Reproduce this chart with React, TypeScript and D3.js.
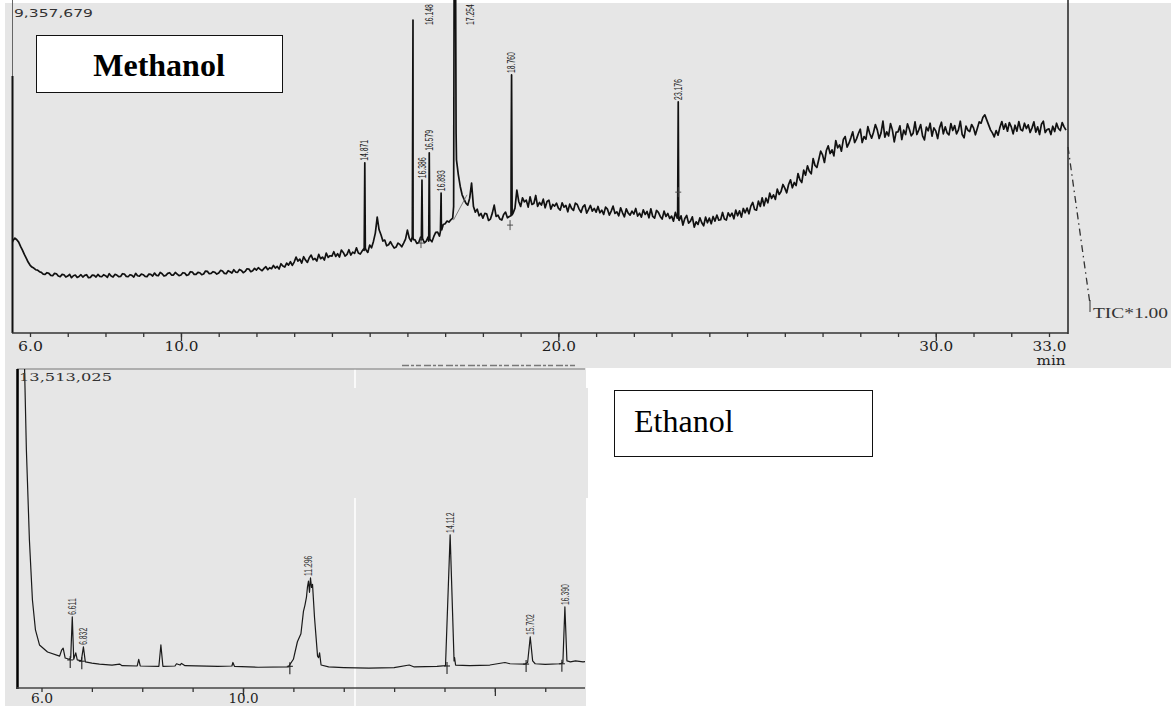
import React, { useEffect, useMemo, useRef } from "react";
import * as d3 from "d3";

// ---- Methanol TIC (relative intensity, % of 9,357,679) ----
// trace every 0.05 min from 5.5 min
const methanolStart = 5.5;
const methanolStep = 0.05;
const methanolTrace = [
  26.4, 27.8, 28.5, 28.0, 27.3, 26.0, 24.9, 23.6, 22.5, 21.3,
  20.4, 19.8, 19.5, 19.0, 18.9, 18.4, 18.2, 17.7, 17.6, 18.1, 17.9, 17.3, 17.2, 17.9, 17.8, 17.1, 16.9, 17.6, 17.5, 16.8,
  17.1, 17.6, 16.6, 17.2, 17.4, 16.7, 17.0, 17.5, 16.8, 17.3, 17.5, 16.6, 16.7, 17.4, 17.3, 16.8, 17.6, 17.0, 16.9, 17.5,
  17.2, 16.7, 17.8, 17.1, 16.8, 17.6, 17.4, 16.9, 17.0, 17.8, 17.7, 17.0, 16.9, 17.5, 17.3, 16.8, 17.9, 17.2, 17.1, 17.7,
  17.5, 17.0, 16.9, 17.7, 17.6, 17.1, 18.0, 17.3, 17.2, 18.2, 17.8, 17.1, 17.3, 17.9, 18.1, 17.4, 17.4, 18.2, 17.7, 17.2,
  17.4, 18.1, 18.0, 17.3, 17.5, 18.4, 18.3, 17.6, 17.6, 18.2, 18.1, 17.5, 17.7, 18.6, 18.5, 17.8, 17.9, 18.4, 18.2, 17.7,
  18.0, 18.8, 18.6, 17.9, 17.8, 18.7, 18.4, 18.0, 19.0, 18.3, 18.2, 19.1, 18.8, 18.1, 18.5, 19.3, 19.2, 18.4, 18.7, 19.4,
  18.9, 19.6, 19.1, 18.7, 19.4, 19.9, 19.0, 19.6, 19.3, 20.3, 19.5, 20.0, 19.2, 20.8, 20.1, 19.8, 21.0, 20.4, 21.4, 20.3,
  21.3, 22.8, 21.6, 22.2, 21.0, 22.9, 21.9, 21.2, 22.6, 23.4, 22.0, 22.4, 21.6, 23.6, 22.3, 22.8, 21.9, 24.0, 22.7, 23.2,
  23.1, 24.4, 23.0, 23.8, 22.8, 24.9, 24.2, 23.1, 23.6, 25.0, 23.4, 24.3, 23.9, 25.6, 24.0, 23.7, 24.6, 25.4, 25.0, 24.2,
  26.4, 25.6, 27.5, 30.0, 34.8, 31.0, 29.5, 27.6, 27.9, 26.2, 26.5, 27.4, 26.4, 25.5, 25.8, 27.0, 26.6, 25.9, 27.0, 28.2,
  30.9, 28.5, 27.5, 28.6, 28.0, 26.9, 27.2, 28.8, 28.5, 27.1, 27.6, 28.9, 28.1, 27.4, 29.0, 30.2, 30.3, 29.1, 31.5, 32.6,
  32.8, 33.6, 33.3, 34.0, 34.5, 140, 52.0, 47.5, 44.0, 41.5, 40.2, 39.0, 38.4, 40.5, 45.0, 38.0, 36.3, 37.2, 35.2, 35.9,
  34.5, 35.9, 35.8, 33.8, 34.2, 36.0, 38.4, 35.0, 35.4, 34.2, 33.9, 35.6, 36.3, 34.6, 35.0, 56.0, 36.0, 37.5, 42.9, 39.5,
  38.0, 40.6, 39.4, 39.9, 37.8, 40.9, 38.6, 38.9, 41.3, 38.0, 39.2, 38.4, 40.2, 37.6, 39.5, 39.9, 37.2, 38.6, 38.1, 39.0,
  37.5, 36.9, 39.1, 37.8, 38.3, 36.4, 38.7, 37.4, 36.8, 39.0, 38.6, 37.2, 36.2, 37.9, 38.5, 36.0, 37.1, 38.3, 36.6, 37.4,
  36.3, 38.0, 36.1, 36.9, 35.6, 37.8, 37.2, 35.4, 36.6, 38.1, 35.9, 36.4, 35.2, 37.6, 36.1, 34.9, 37.3, 36.0, 35.4, 36.6,
  35.7, 37.4, 35.1, 36.0, 34.8, 37.0, 35.6, 36.5, 34.6, 37.3, 35.0, 34.5, 36.8, 36.2, 35.0, 34.2, 36.6, 35.0, 35.9, 34.4,
  35.1, 33.6, 36.2, 34.5, 33.8, 35.2, 32.4, 34.4, 35.3, 33.0, 33.6, 34.9, 31.8, 33.4, 32.6, 34.6, 33.1, 32.2, 34.8, 33.1,
  34.5, 32.8, 35.0, 33.6, 35.4, 33.9, 34.0, 36.2, 34.2, 33.9, 36.1, 35.0, 36.0, 34.3, 36.9, 35.2, 36.7, 34.8, 37.4, 36.1,
  37.5, 35.8, 38.1, 39.2, 37.1, 36.9, 39.6, 38.0, 40.6, 38.2, 40.5, 39.1, 42.0, 40.4, 41.5, 40.1, 43.2, 41.6, 42.5, 44.6,
  43.5, 42.1, 44.6, 46.0, 43.6, 45.2, 44.3, 47.9, 46.0, 45.2, 48.9, 47.4, 50.2, 48.6, 47.8, 52.4, 50.3, 49.7, 52.1, 54.6,
  53.5, 51.2, 54.8, 56.2, 53.9, 55.0, 53.2, 57.8, 55.6, 56.5, 54.6, 58.1, 59.0, 55.8, 57.0, 58.6, 60.4, 57.2, 58.3, 59.9,
  61.2, 57.2, 59.0, 58.2, 62.0, 59.9, 58.5, 60.3, 62.6, 61.0, 58.4, 60.1, 63.6, 58.8, 60.4, 59.2, 62.9, 61.0, 57.4, 60.3,
  60.4, 62.2, 58.1, 60.9, 59.6, 62.8, 61.2, 59.2, 60.0, 63.4, 59.6, 61.0, 62.6, 59.2, 58.0, 61.8, 60.7, 63.0, 59.1, 61.6,
  60.7, 58.4, 61.6, 63.3, 59.8, 61.9, 60.1, 59.5, 62.9, 60.8, 62.3, 59.8, 61.0, 63.6, 59.6, 58.6, 62.1, 60.9, 60.5, 62.6,
  61.6, 59.5, 61.4, 63.4, 63.0, 64.8, 65.5, 64.0, 62.5, 61.0, 60.1, 58.9, 60.8, 59.4, 61.8, 63.5, 61.2, 62.8, 60.6, 63.2,
  61.9, 59.8, 62.4, 60.6, 63.5, 61.1, 60.7, 63.0, 61.4, 62.5, 60.2, 61.6, 63.4, 60.3, 61.9, 59.6, 62.7, 63.6, 60.2, 61.1,
  61.3, 59.6, 62.1, 60.5, 63.0, 61.4, 60.8, 63.2, 61.9, 60.9,
];
// sharp peaks [min, %] merged into the trace
const methanolPeakPoints: [number, number][] = [
  [14.855, 24.8], [14.871, 51.1], [14.885, 25.5],
  [16.13, 29.0], [16.148, 94.0], [16.165, 28.0],
  [16.37, 28.0], [16.386, 45.9], [16.4, 28.4],
  [16.565, 27.6], [16.579, 54.1], [16.593, 28.0],
  [16.875, 30.5], [16.893, 42.0], [16.91, 31.0],
  [17.225, 38.0], [17.245, 140], [17.254, 140], [17.27, 130], [17.29, 60],
  [18.745, 35.2], [18.76, 77.5], [18.775, 35.5],
  [23.16, 35.0], [23.176, 69.4], [23.19, 34.0],
];
const methanolLabels = [14.871, 16.148, 16.386, 16.579, 16.893, 17.254, 18.76, 23.176];
const methanolLabelText = ["14.871", "16.148", "16.386", "16.579", "16.893", "17.254", "18.760", "23.176"];
const methanolMarks: [number, number][] = [[18.72, 32.4], [23.176, 42.3], [16.36, 27.0]];
const methanolIntBase: [number, number][] = [[17.22, 33.9], [17.58, 41.5]];

const topMinorTicks = d3.range(6, 34);
const topMajorTicks = [10, 20, 30];
const topLabelTicks = [6, 10, 20, 30, 33];

// ---- Ethanol TIC (relative intensity, % of 13,513,025) ----
const ethanolTrace: [number, number][] = [
  [5.5, 8], [5.53, 110], [5.65, 110], [5.7, 74.6], [5.76, 46.4], [5.82, 27.6],
  [5.88, 18.2], [5.96, 13.5], [6.12, 11.3], [6.36, 10.0], [6.4, 11.9], [6.43, 12.5],
  [6.47, 9.4], [6.55, 9.0], [6.58, 9.5], [6.611, 22.3], [6.64, 9.0], [6.68, 11.0],
  [6.71, 8.8], [6.79, 8.5], [6.832, 12.9], [6.87, 8.2], [7.0, 7.8], [7.15, 7.5],
  [7.4, 7.2], [7.55, 7.5], [7.6, 7.0], [7.9, 6.9], [7.93, 9.0], [7.96, 6.9],
  [8.33, 6.8], [8.37, 13.5], [8.41, 6.8], [8.65, 6.9], [8.68, 7.6], [8.75, 7.2],
  [8.78, 7.7], [8.85, 7.0], [9.5, 6.8], [9.78, 6.9], [9.8, 8.0], [9.83, 6.8],
  [10.3, 6.5], [10.9, 6.6], [11.0, 9.0], [11.08, 14.5], [11.15, 17.0], [11.2, 24.0],
  [11.23, 26.0], [11.26, 28.5], [11.28, 31.7], [11.3, 33.5], [11.32, 30.0],
  [11.34, 34.5], [11.36, 31.5], [11.38, 32.5], [11.42, 22.0], [11.48, 10.0],
  [11.5, 9.5], [11.52, 11.0], [11.55, 7.2], [11.7, 6.6], [12.0, 6.4], [12.5, 6.2],
  [13.0, 6.4], [13.3, 7.2], [13.4, 6.6], [13.85, 6.8], [14.02, 7.0], [14.112, 48.0],
  [14.19, 8.5], [14.2, 9.5], [14.22, 7.2], [14.5, 7.0], [14.9, 7.2], [15.2, 8.0],
  [15.3, 7.6], [15.6, 7.5], [15.65, 8.0], [15.702, 16.0], [15.75, 8.5], [15.8, 7.6],
  [16.0, 7.4], [16.3, 7.6], [16.35, 8.0], [16.39, 25.4], [16.43, 8.5], [16.5, 8.2],
  [16.6, 8.5], [16.75, 8.2], [16.86, 8.4],
];
const ethanolLabels = [6.611, 6.832, 11.296, 14.112, 15.702, 16.39];
const ethanolLabelText = ["6.611", "6.832", "11.296", "14.112", "15.702", "16.390"];
const ethanolLabelTops = [22.3, 12.9, 34.5, 48.0, 16.0, 25.4];
const ethanolMarks: [number, number][] = [
  [6.57, 8.8], [6.8, 8.4], [10.93, 6.8], [14.05, 6.9], [15.62, 7.5], [16.33, 7.6],
];

const botMinorTicks = d3.range(6, 17);
const botMajorTicks = [10, 15];
const botLabelTicks = [6, 10];

const labelFont = "'Liberation Sans', Arial, sans-serif";
const serif = "'DejaVu Serif', serif";

// rotated, horizontally squeezed retention-time label sitting on top of a peak
function PeakLabel({ x, y, text, fill }: { x: number; y: number; text: string; fill: string }) {
  return (
    <text
      transform={`translate(${x},${y}) rotate(-90) scale(0.62,1)`}
      dominantBaseline="central"
      fontFamily={labelFont}
      fontSize={11}
      fill={fill}
    >
      {text}
    </text>
  );
}

export default function App() {
  const topAxisRef = useRef<SVGGElement>(null);
  const botAxisRef = useRef<SVGGElement>(null);

  const xTop = d3.scaleLinear().domain([6, 33]).range([30, 1049]);
  const yTop = d3.scaleLinear().domain([0, 100]).range([333, 0]);
  const xBot = d3.scaleLinear().domain([6, 10]).range([41.5, 243]);
  const yBot = d3.scaleLinear().domain([0, 100]).range([688, 369]);

  const topSeries = useMemo(() => {
    const base: [number, number][] = methanolTrace.map((v, i) => [methanolStart + i * methanolStep, v]);
    return [...base, ...methanolPeakPoints].sort((a, b) => a[0] - b[0]);
  }, []);

  const topLine = d3.line<[number, number]>().x((d) => xTop(d[0])).y((d) => yTop(d[1]));
  const botLine = d3.line<[number, number]>().x((d) => xBot(d[0])).y((d) => yBot(d[1]));

  useEffect(() => {
    const drawAxis = (
      node: SVGGElement | null,
      scale: d3.ScaleLinear<number, number>,
      minor: number[],
      major: number[],
      labels: number[],
      labelY: number,
      fontSize: number,
      labelLen: (s: string) => number
    ) => {
      const g = d3.select(node);
      g.selectAll("*").remove();
      g.append("g").call(d3.axisBottom(scale).tickValues(minor).tickSize(4).tickFormat(() => ""));
      g.append("g").call(d3.axisBottom(scale).tickValues(major).tickSize(8).tickFormat(() => ""));
      const lab = g.append("g").call(
        d3.axisBottom(scale).tickValues(labels).tickSize(0).tickFormat(d3.format(".1f") as any)
      );
      g.selectAll(".domain").remove();
      g.selectAll("line").attr("stroke", "#333").attr("stroke-width", 1.3);
      lab
        .selectAll("text")
        .attr("y", labelY)
        .attr("dy", null)
        .attr("fill", "#1e1e1e")
        .attr("font-family", serif)
        .attr("font-size", fontSize)
        .attr("textLength", (d: any) => labelLen(d3.format(".1f")(d)))
        .attr("lengthAdjust", "spacingAndGlyphs");
    };
    drawAxis(topAxisRef.current, xTop, topMinorTicks, topMajorTicks, topLabelTicks, 18, 13, (s) => (s.length > 3 ? 34 : 25));
    drawAxis(botAxisRef.current, xBot, botMinorTicks, botMajorTicks, botLabelTicks, 15, 12, (s) => (s.length > 3 ? 30 : 22));
  }, []);

  const topLabelNodes = methanolLabels.map((rt, i) => {
    const apex = d3.max(topSeries.filter((d) => Math.abs(d[0] - rt) < 0.0005), (d) => d[1]) ?? 0;
    let x = xTop(rt);
    let y = yTop(apex) - 2;
    if (y - 21 < 0) {
      x += 16;
      y = 25;
    }
    return <PeakLabel key={rt} x={x} y={y} text={methanolLabelText[i]} fill="#222" />;
  });

  const botLabelNodes = ethanolLabels.map((rt, i) => (
    <PeakLabel key={rt} x={xBot(rt)} y={yBot(ethanolLabelTops[i]) - 2} text={ethanolLabelText[i]} fill="#333" />
  ));

  return (
    <div style={{ position: "absolute", left: 0, top: 0 }}>
      <svg width={1171} height={706} style={{ display: "block", background: "#fff" }}>
        <defs>
          <clipPath id="clipTop">
            <rect x={12} y={0} width={1056} height={333} />
          </clipPath>
          <clipPath id="clipBot">
            <rect x={17} y={369} width={568} height={319} />
          </clipPath>
        </defs>

        {/* panel backgrounds */}
        <rect x={5} y={3} width={1166} height={365} fill="#e6e6e6" />
        <rect x={5} y={368} width={581} height={338} fill="#e6e6e6" />
        <rect x={585} y={388} width={3} height={110} fill="#e6e6e6" />
        <line x1={355} x2={355} y1={369} y2={388} stroke="#fff" strokeWidth={1.5} />
        <line x1={355} x2={355} y1={498} y2={706} stroke="#fff" strokeWidth={1.5} />
        <line x1={402} x2={578} y1={365.5} y2={365.5} stroke="#777" strokeWidth={1.5} strokeDasharray="7,2,3,2,5,3" />

        {/* ---- Methanol panel ---- */}
        <g clipPath="url(#clipTop)">
          <path d={topLine(topSeries) ?? ""} fill="none" stroke="#111" strokeWidth={1.7} strokeLinejoin="round" />
          <path d={topLine(methanolIntBase) ?? ""} fill="none" stroke="#666" strokeWidth={0.8} />
          {methanolMarks.map(([t, v]) => (
            <g key={t} stroke="#444" strokeWidth={0.9}>
              <line x1={xTop(t)} x2={xTop(t)} y1={yTop(v) - 5} y2={yTop(v) + 5} />
              <line x1={xTop(t) - 3} x2={xTop(t) + 3} y1={yTop(v)} y2={yTop(v)} />
            </g>
          ))}
        </g>
        {topLabelNodes}
        <line x1={12.5} x2={12.5} y1={0} y2={333} stroke="#666" strokeWidth={1} />
        <line x1={12.5} x2={12.5} y1={76} y2={333} stroke="#111" strokeWidth={2} />
        <line x1={1068} x2={1068} y1={0} y2={334} stroke="#222" strokeWidth={1.5} />
        <line x1={12} x2={1068} y1={333} y2={333} stroke="#333" strokeWidth={1.5} />
        <g ref={topAxisRef} transform="translate(0,333)" />
        <text x={1051} y={365} textAnchor="middle" fontFamily={serif} fontSize={13} fill="#1e1e1e" textLength={29} lengthAdjust="spacingAndGlyphs">
          min
        </text>
        <text x={14} y={17} fontFamily="'DejaVu Sans', sans-serif" fontSize={10} fill="#333" textLength={79} lengthAdjust="spacingAndGlyphs">
          9,357,679
        </text>
        <path d="M1068,147 L1090,304" fill="none" stroke="#333" strokeWidth={1.3} strokeDasharray="7,4,1.5,4" />
        <line x1={1090} x2={1090} y1={300} y2={312} stroke="#333" strokeWidth={1} />
        <text x={1093} y={318} fontFamily="'Liberation Serif', serif" fontSize={15} fill="#333" textLength={75} lengthAdjust="spacingAndGlyphs">
          TIC*1.00
        </text>
        <rect x={36.5} y={35.5} width={246} height={57} fill="#fff" stroke="#111" strokeWidth={1} />
        <text x={159} y={76} textAnchor="middle" fontFamily="'Liberation Serif', serif" fontWeight="bold" fontSize={32} fill="#000">
          Methanol
        </text>

        {/* ---- Ethanol panel ---- */}
        <line x1={17} x2={585} y1={369} y2={369} stroke="#777" strokeWidth={1} />
        <g clipPath="url(#clipBot)">
          <path d={botLine(ethanolTrace) ?? ""} fill="none" stroke="#1a1a1a" strokeWidth={1.2} strokeLinejoin="round" />
          {ethanolMarks.map(([t, v]) => (
            <g key={t} stroke="#222" strokeWidth={1.1}>
              <line x1={xBot(t)} x2={xBot(t)} y1={yBot(v) - 4} y2={yBot(v) + 8} />
              <line x1={xBot(t) - 3} x2={xBot(t) + 3} y1={yBot(v)} y2={yBot(v)} />
            </g>
          ))}
        </g>
        {botLabelNodes}
        <line x1={17.5} x2={17.5} y1={369} y2={689} stroke="#000" strokeWidth={2.5} />
        <line x1={17} x2={585} y1={688} y2={688} stroke="#444" strokeWidth={1.5} />
        <g ref={botAxisRef} transform="translate(0,688)" />
        <text x={19} y={381} fontFamily={serif} fontSize={11} fill="#333" textLength={93} lengthAdjust="spacingAndGlyphs">
          13,513,025
        </text>
        <rect x={614.5} y={390.5} width={258} height={66} fill="#fff" stroke="#111" strokeWidth={1} />
        <text x={634} y={432} fontFamily="'Liberation Serif', serif" fontSize={32} fill="#000">
          Ethanol
        </text>
      </svg>
    </div>
  );
}
